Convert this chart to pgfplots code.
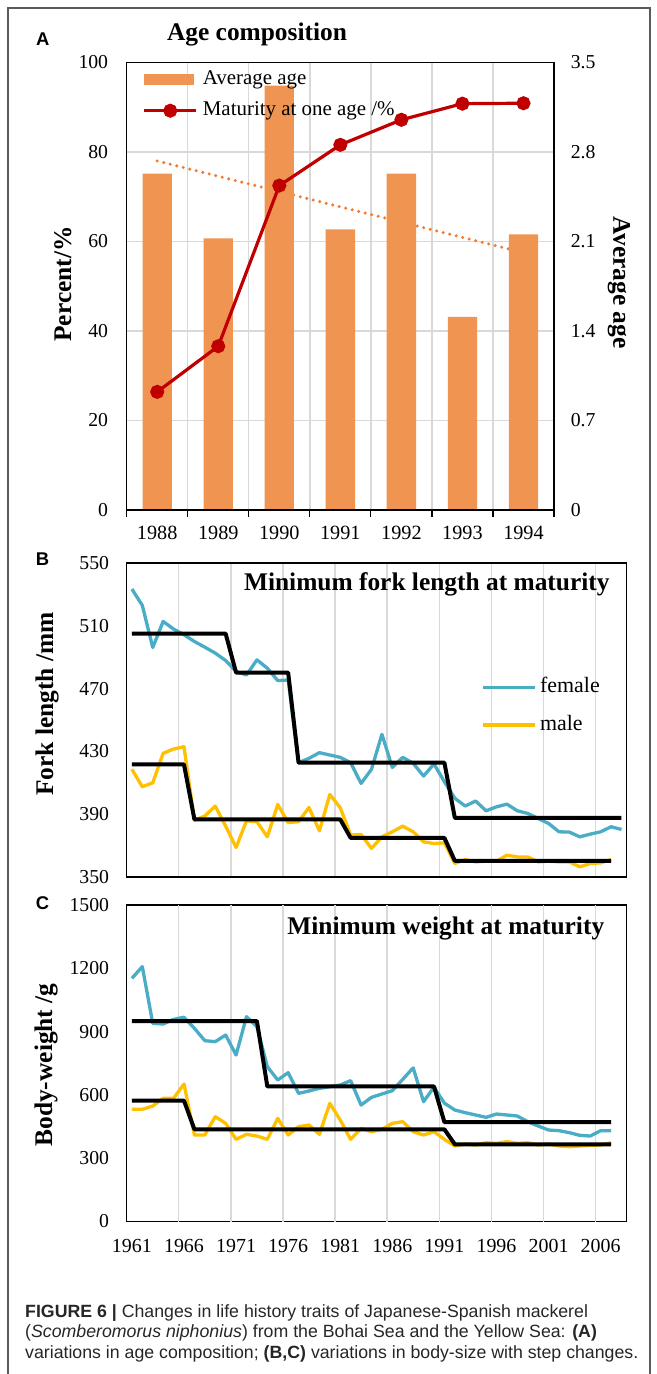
\documentclass[border=0pt]{standalone}
\usepackage{fontspec}
\setmainfont{Liberation Serif}
\setsansfont{Liberation Sans}
\usepackage{pgfplots}
\pgfplotsset{compat=1.18}
\definecolor{barorange}{RGB}{240,148,82}
\definecolor{trendorange}{RGB}{237,125,49}
\definecolor{darkred}{RGB}{192,0,0}
\definecolor{fblue}{RGB}{75,172,198}
\definecolor{myellow}{RGB}{255,192,0}
\definecolor{gridgray}{RGB}{217,217,217}
\definecolor{framegray}{RGB}{90,90,90}
\newcommand{\axlab}{\fontsize{25.5}{26}\selectfont\bfseries}
\newcommand{\ttl}{\fontsize{25.5}{26}\selectfont\bfseries}
\pgfplotsset{
  every tick label/.append style={font=\fontsize{19.8}{20}\selectfont, inner sep=0pt},
  grid style={gridgray, line width=1.4bp},
  every axis/.append style={axis line style={line width=1.5bp}},
  redlegend/.style={legend image code/.code={\draw[mark repeat=2, mark phase=2, ##1] plot coordinates {(0bp,0bp) (26bp,0bp) (52bp,0bp)};}},
  linelegend/.style={legend image code/.code={\draw[##1] (0bp,0bp) -- (52bp,0bp);}},
  barlegend/.style={legend image code/.code={\fill[barorange] (0bp,-5bp) rectangle (49bp,5bp);}},
}

\pgfplotstableread{
year fem mal
1961 533.4 418.6
1962 523.0 407.5
1963 496.2 410.0
1964 512.8 428.8
1965 507.9 431.5
1966 504.3 433.0
1967 500.0 386.2
1968 496.4 388.8
1969 492.6 395.2
1970 487.9 382.4
1971 480.9 368.8
1972 478.7 385.8
1973 488.3 385.2
1974 483.0 375.6
1975 475.1 396.2
1976 475.5 384.7
1977 422.8 385.2
1978 425.6 394.3
1979 429.2 379.4
1980 427.7 402.6
1981 426.2 394.1
1982 422.8 376.7
1983 409.6 377.1
1984 418.6 368.2
1985 440.9 375.6
1986 419.8 378.8
1987 426.2 382.4
1988 422.4 378.8
1989 414.3 372.4
1990 422.0 371.3
1991 410.7 371.8
1992 400.1 358.6
1993 395.2 361.1
1994 398.4 359.6
1995 392.2 360.1
1996 394.7 360.1
1997 396.4 363.9
1998 392.2 362.8
1999 390.5 362.8
2000 387.3 359.6
2001 384.1 360.1
2002 378.8 359.6
2003 378.6 359.6
2004 375.6 356.5
2005 377.3 358.6
2006 378.8 359.0
2007 382.0 361.1
2008 380.3 nan
}\forktable

\pgfplotstableread{
year fem mal
1961 1152.5 531.6
1962 1207.8 531.6
1963 939.2 547.4
1964 936.0 583.8
1965 958.0 583.8
1966 968.0 651.7
1967 915.5 410.0
1968 857.0 410.0
1969 852.3 496.9
1970 883.9 465.3
1971 789.1 389.4
1972 970.8 413.2
1973 923.4 405.2
1974 733.8 389.4
1975 670.6 489.0
1976 705.4 410.0
1977 607.4 449.5
1978 618.5 457.4
1979 631.2 413.2
1980 639.0 560.1
1981 647.0 481.1
1982 667.5 389.4
1983 552.1 441.6
1984 588.5 425.8
1985 604.3 436.8
1986 620.1 465.3
1987 673.8 473.2
1988 728.0 425.8
1989 567.9 410.0
1990 637.0 425.8
1991 561.0 389.4
1992 528.4 357.8
1993 515.8 367.3
1994 504.8 362.6
1995 493.7 373.6
1996 509.5 370.5
1997 504.8 378.4
1998 500.0 370.5
1999 473.2 373.6
2000 452.6 362.6
2001 433.7 367.3
2002 430.5 357.8
2003 421.0 354.6
2004 408.4 357.8
2005 405.2 361.0
2006 430.5 362.6
2007 430.5 373.6
}\weighttable

\begin{document}
\begin{tikzpicture}
\useasboundingbox (0,0) rectangle (657bp,-1374bp);
\draw[framegray, line width=1.2bp] (8bp,-1374bp) -- (8bp,-8bp) -- (650bp,-8bp) -- (650bp,-1374bp);

% ---------------- Panel A : bars (right axis) ----------------
\begin{axis}[
  at={(126.7bp,-510bp)}, anchor=south west, scale only axis,
  width=427.3bp, height=447.5bp,
  xmin=-0.5, xmax=6.5, ymin=0, ymax=3.5,
  axis line style={draw=none},
  xtick={-0.5,0.5,1.5,2.5,3.5,4.5,5.5,6.5}, xticklabels={}, xmajorgrids,
  ytick={0,0.7,1.4,2.1,2.8,3.5}, yticklabels={0,0.7,1.4,2.1,2.8,3.5},
  ymajorgrids, yticklabel pos=right,
  major tick length=0pt,
  yticklabel style={anchor=west, xshift=16.6bp},
  every axis y label/.style={at={(axis description cs:1.152,0.508)}, rotate=-90, anchor=center, font=\axlab},
  ylabel={Average age},
]
\addplot[trendorange, line width=3.4bp, dash pattern=on 0bp off 6.7bp, line cap=round] coordinates {(0,2.730) (6,2.0125)};
\addplot[ybar, bar width=29.3bp, fill=barorange, draw=none] coordinates {(0,2.63) (1,2.125) (2,3.32) (3,2.195) (4,2.63) (5,1.51) (6,2.156)};
\end{axis}

% ---------------- Panel A : line (left axis) ----------------
\begin{axis}[
  at={(126.7bp,-510bp)}, anchor=south west, scale only axis,
  width=427.3bp, height=447.5bp,
  xmin=-0.5, xmax=6.5, ymin=0, ymax=100,
  xtick={0,...,6}, xticklabels={1988,1989,1990,1991,1992,1993,1994},
  major tick length=0pt,
  extra x ticks={-0.5,0.5,1.5,2.5,3.5,4.5,5.5,6.5}, extra x tick labels={},
  extra x tick style={major tick length=7bp, tick align=outside, tick style={black, line width=1.2bp}},
  xtick pos=left, ytick pos=left,
  ytick={0,20,40,60,80,100}, yticklabels={0,20,40,60,80,100},
  yticklabel style={anchor=east, xshift=-18.4bp},
  xticklabel style={anchor=center, yshift=-23bp, font=\fontsize{20.3}{21}\selectfont},
  every axis y label/.style={at={(axis description cs:-0.1495,0.505)}, rotate=90, anchor=center, font=\axlab},
  ylabel={Percent/\%},
  title={Age composition},
  title style={at={(axis description cs:0.305,1.0369)}, anchor=base, font=\ttl},
  legend style={at={(axis description cs:0.0374,0.9937)}, anchor=north west, draw=none, fill=none,
    inner sep=0pt, outer sep=0pt, font=\fontsize{21}{22}\selectfont, row sep=3.4bp,
    nodes={inner ysep=5bp, inner xsep=5bp, text height=14bp, text depth=4bp}},
  legend cell align=left,
]
\addlegendimage{barlegend}
\addlegendentry{Average age}
\addplot[darkred, line width=3.2bp, mark=*, mark size=5.4bp, mark options={solid}, redlegend]
  coordinates {(0,26.4) (1,36.6) (2,72.5) (3,81.6) (4,87.2) (5,90.8) (6,90.9)};
\addlegendentry{Maturity at one age /\%}
\end{axis}

% ---------------- Panel B ----------------
\begin{axis}[
  at={(126.7bp,-877bp)}, anchor=south west, scale only axis,
  width=500bp, height=314bp,
  xmin=1960.5, xmax=2008.5, ymin=350, ymax=550,
  xtick={1965.5,1970.5,1975.5,1980.5,1985.5,1990.5,1995.5,2000.5,2005.5}, xticklabels={}, xmajorgrids,
  major tick length=0pt,
  ytick={350,390,430,470,510,550}, yticklabels={350,390,430,470,510,550},
  yticklabel style={anchor=east, xshift=-17.5bp},
  every axis y label/.style={at={(axis description cs:-0.1594,0.551)}, rotate=90, anchor=center, font=\axlab},
  ylabel={Fork length /mm},
  title={Minimum fork length at maturity},
  title style={at={(axis description cs:0.6002,0.8927)}, anchor=base, font=\ttl},
  legend style={at={(axis description cs:0.7102,0.6506)}, anchor=north west, draw=none, fill=none,
    inner sep=0pt, outer sep=0pt, font=\fontsize{22}{22}\selectfont, row sep=7.3bp,
    nodes={inner ysep=5bp, inner xsep=3bp, text height=15bp, text depth=5bp}},
  legend cell align=left,
  linelegend,
]
\addplot[fblue, line width=3.3bp, line join=round] table[x=year, y=fem] {\forktable};
\addlegendentry{female}
\addplot[myellow, line width=3.3bp, line join=round, unbounded coords=discard] table[x=year, y=mal] {\forktable};
\addlegendentry{male}
\addplot[black, line width=4bp, line join=round, forget plot] coordinates {(1961,505) (1970,505) (1971,480.2) (1976,480.2) (1977,422.8) (1991,422.8) (1992,387.7) (2008,387.7)};
\addplot[black, line width=4bp, line join=round, forget plot] coordinates {(1961,421.7) (1966,421.7) (1967,386.7) (1981,386.7) (1982,374.9) (1991,374.9) (1992,360.3) (2007,360.3)};
\end{axis}

% ---------------- Panel C ----------------
\begin{axis}[
  at={(126.7bp,-1221.5bp)}, anchor=south west, scale only axis,
  width=500bp, height=316.5bp,
  xmin=1960.5, xmax=2008.5, ymin=0, ymax=1500,
  xtick={1961,1966,1971,1976,1981,1986,1991,1996,2001,2006},
  xticklabels={1961,1966,1971,1976,1981,1986,1991,1996,2001,2006},
  extra x ticks={1965.5,1970.5,1975.5,1980.5,1985.5,1990.5,1995.5,2000.5,2005.5}, extra x tick labels={},
  extra x tick style={grid=major},
  major tick length=0pt,
  ytick={0,300,600,900,1200,1500}, yticklabels={0,300,600,900,1200,1500},
  yticklabel style={anchor=east, xshift=-17.5bp},
  xticklabel style={anchor=center, yshift=-24bp, font=\fontsize{20}{20}\selectfont},
  every axis y label/.style={at={(axis description cs:-0.1614,0.4945)}, rotate=90, anchor=center, font=\axlab},
  ylabel={Body-weight /g},
  title={Minimum weight at maturity},
  title style={at={(axis description cs:0.6382,0.8872)}, anchor=base, font=\ttl},
]
\addplot[fblue, line width=3.3bp, line join=round] table[x=year, y=fem] {\weighttable};
\addplot[myellow, line width=3.3bp, line join=round] table[x=year, y=mal] {\weighttable};
\addplot[black, line width=4bp, line join=round] coordinates {(1961,950) (1973,950) (1974,640) (1990,640) (1991,471) (2007,471)};
\addplot[black, line width=4bp, line join=round] coordinates {(1961,572.7) (1966,572.7) (1967,436.8) (1991,436.8) (1992,365.8) (2007,365.8)};
\end{axis}

% ---------------- Panel letters ----------------
\node[anchor=base west, inner sep=0pt, font=\sffamily\bfseries\fontsize{18.5}{19}\selectfont] at (36bp,-45bp) {A};
\node[anchor=base west, inner sep=0pt, font=\sffamily\bfseries\fontsize{18.5}{19}\selectfont] at (35.6bp,-565bp) {B};
\node[anchor=base west, inner sep=0pt, font=\sffamily\bfseries\fontsize{18.5}{19}\selectfont] at (35.6bp,-909bp) {C};

% ---------------- Caption ----------------
\begin{scope}[every node/.style={anchor=base west, inner sep=0pt, text=black!85, font=\sffamily\fontsize{17.8}{20}\selectfont}]
\node at (25bp,-1317bp) {\textbf{FIGURE 6 |} Changes in life history traits of Japanese-Spanish mackerel};
\node at (25bp,-1337.7bp) {(\textit{Scomberomorus niphonius}) from the Bohai Sea and the Yellow Sea: \textbf{(A)}};
\node at (25bp,-1358.4bp) {variations in age composition; \textbf{(B,C)} variations in body-size with step changes.};
\end{scope}
\end{tikzpicture}
\end{document}
